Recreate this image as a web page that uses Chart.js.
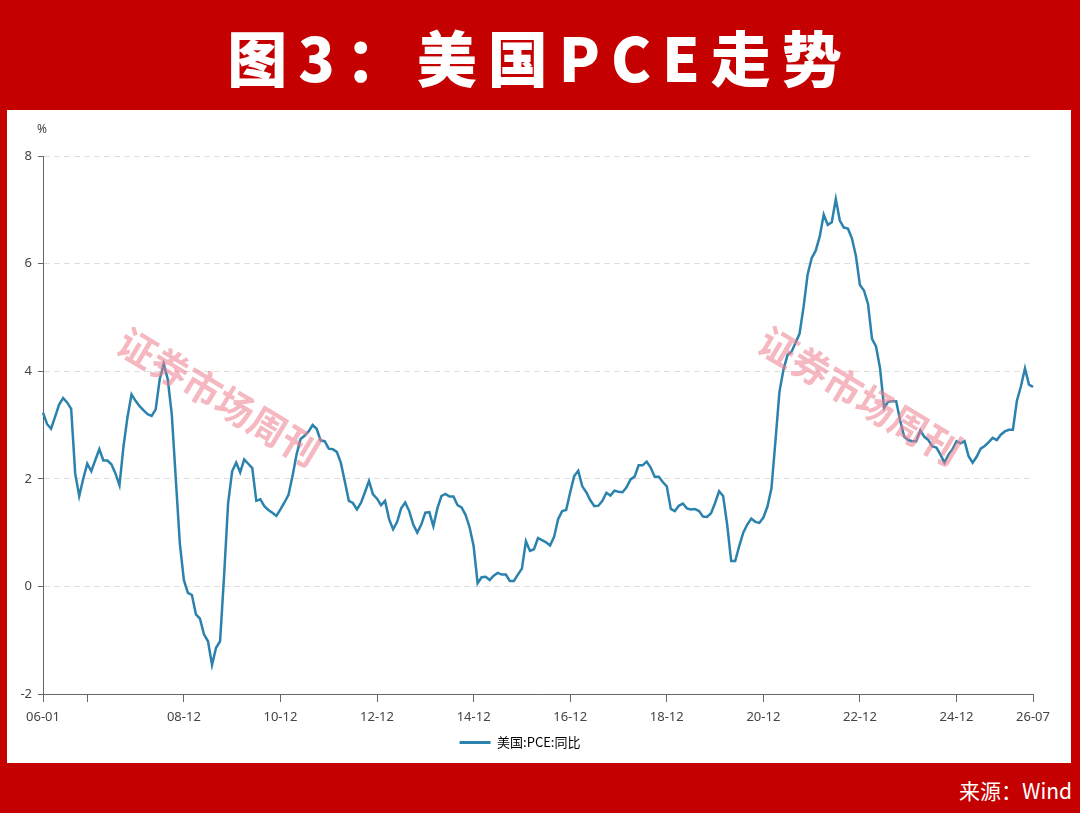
<!DOCTYPE html>
<html>
<head>
<meta charset="utf-8">
<script src="https://cdn.jsdelivr.net/npm/chart.js@4.4.1/dist/chart.umd.min.js"></script>
<style>
  html, body { margin:0; padding:0; }
  body { width:1080px; height:813px; background:#c40000; position:relative; overflow:hidden; }
  #title { position:absolute; left:0; top:14px; width:1080px; text-align:center; color:#fff;
           font-family:"Noto Sans CJK SC", sans-serif; font-weight:900; font-size:60px; line-height:84px; letter-spacing:11px; }
  #panel { position:absolute; left:7px; top:110px; width:1064px; height:653px; background:#fff; }
  #src { position:absolute; right:8px; top:775px; color:#fff; font-family:"Noto Sans CJK SC", sans-serif; font-size:21px; line-height:30px; }
</style>
</head>
<body>
<div id="title">图3：美国PCE走势</div>
<div id="panel"><canvas id="c" width="1064" height="653"></canvas></div>
<div id="src">来源：Wind</div>
<script>
// ---- data ----
const seriesName = '美国:PCE:同比';
const startYear = 2006, startMonth = 1, endYear = 2026, endMonth = 7;
const pceYoY = [
  3.23,3.02,2.93,3.15,3.38,3.50,3.42,3.30,2.10,1.68,2.00,2.28,
  2.14,2.35,2.55,2.34,2.34,2.27,2.10,1.88,2.60,3.15,3.57,3.45,
  3.35,3.27,3.20,3.17,3.29,3.85,4.13,3.85,3.20,2.00,0.80,0.12,
  -0.12,-0.16,-0.52,-0.60,-0.89,-1.02,-1.46,-1.14,-1.02,0.20,1.55,2.14,
  2.30,2.12,2.36,2.28,2.20,1.59,1.62,1.49,1.42,1.37,1.31,1.43,
  1.56,1.70,2.05,2.45,2.74,2.80,2.88,3.00,2.93,2.71,2.70,2.56,
  2.55,2.50,2.30,1.95,1.59,1.55,1.43,1.55,1.75,1.96,1.71,1.63,
  1.51,1.59,1.25,1.06,1.20,1.45,1.56,1.40,1.15,1.00,1.15,1.37,
  1.38,1.12,1.45,1.68,1.72,1.67,1.67,1.51,1.47,1.33,1.10,0.75,
  0.06,0.17,0.18,0.12,0.20,0.25,0.22,0.22,0.10,0.10,0.22,0.33,
  0.84,0.66,0.69,0.90,0.86,0.82,0.76,0.92,1.25,1.40,1.42,1.75,
  2.05,2.15,1.86,1.75,1.60,1.49,1.50,1.59,1.74,1.69,1.78,1.76,
  1.75,1.84,1.99,2.04,2.25,2.25,2.32,2.21,2.04,2.04,1.94,1.86,
  1.44,1.40,1.50,1.54,1.45,1.43,1.44,1.40,1.30,1.29,1.36,1.55,
  1.77,1.68,1.15,0.47,0.47,0.75,1.00,1.15,1.26,1.20,1.18,1.28,
  1.48,1.82,2.70,3.62,4.03,4.30,4.36,4.53,4.70,5.20,5.80,6.10,
  6.24,6.50,6.91,6.72,6.77,7.20,6.80,6.67,6.65,6.47,6.14,5.60,
  5.50,5.25,4.60,4.46,4.05,3.32,3.43,3.44,3.44,3.08,2.78,2.72,
  2.70,2.70,2.90,2.78,2.72,2.60,2.58,2.45,2.30,2.45,2.55,2.70,
  2.66,2.70,2.42,2.30,2.41,2.56,2.61,2.68,2.76,2.72,2.82,2.88,
  2.91,2.91,3.45,3.72,4.05,3.75,3.71
];
const xTickMarks = ['06-01','06-12','08-12','10-12','12-12','14-12','16-12','18-12','20-12','22-12','24-12','26-07'];
const xHiddenLabels = ['06-12'];
const yMin = -2, yMax = 8, yStep = 2;
const yUnit = '%';
const watermarkText = '证券市场周刊';

// categories (months)
const categories = [];
for (let y = startYear, m = startMonth; y < endYear || (y === endYear && m <= endMonth); ) {
  categories.push(String(y % 100).padStart(2,'0') + '-' + String(m).padStart(2,'0'));
  m++; if (m > 12) { m = 1; y++; }
}

const lineColor = '#2b82ad';
const axisColor = '#666';
const labelColor = '#444';

const extras = {
  id: 'extras',
  afterDraw(chart) {
    const ctx = chart.ctx, ca = chart.chartArea;
    ctx.save();
    ctx.fillStyle = labelColor;
    ctx.font = '12px "Noto Sans", sans-serif';
    ctx.textAlign = 'center'; ctx.textBaseline = 'middle';
    ctx.fillText(yUnit, ca.left - 1, 20);
    ctx.font = 'bold 38px "Noto Sans CJK SC", sans-serif';
    ctx.fillStyle = 'rgba(236,125,140,0.55)';
    const marks = [[212, 287], [853, 286]];
    for (const [cx, cy] of marks) {
      ctx.save();
      ctx.translate(cx, cy);
      ctx.rotate(31 * Math.PI / 180);
      ctx.fillText(watermarkText, 0, 0);
      ctx.restore();
    }
    ctx.restore();
  }
};

new Chart(document.getElementById('c'), {
  type: 'line',
  data: {
    labels: categories,
    datasets: [{
      label: seriesName,
      data: pceYoY,
      borderColor: lineColor,
      backgroundColor: lineColor,
      borderWidth: 2.5,
      pointRadius: 0,
      tension: 0,
      fill: false
    }]
  },
  options: {
    responsive: false,
    animation: false,
    layout: { padding: { left: 0, right: 38, top: 46, bottom: 4 } },
    plugins: {
      legend: {
        position: 'bottom',
        labels: {
          boxWidth: 31, boxHeight: 3, padding: 10,
          color: labelColor,
          font: { size: 13, family: '"Noto Sans CJK SC", sans-serif' },
          generateLabels: (chart) => [{
            text: seriesName, fillStyle: lineColor, strokeStyle: lineColor, lineWidth: 0, datasetIndex: 0
          }]
        }
      },
      tooltip: { enabled: false }
    },
    scales: {
      x: {
        type: 'category',
        offset: false,
        grid: {
          drawOnChartArea: false,
          drawTicks: true,
          tickLength: 8,
          color: (c) => (c.tick && xTickMarks.includes(categories[c.tick.value])) ? axisColor : 'rgba(0,0,0,0)',
          tickColor: (c) => (c.tick && xTickMarks.includes(categories[c.tick.value])) ? axisColor : 'rgba(0,0,0,0)'
        },
        border: { display: true, color: axisColor, width: 1 },
        ticks: {
          autoSkip: false, maxRotation: 0, minRotation: 0, padding: 7,
          color: labelColor,
          font: { size: 13, family: '"Noto Sans", sans-serif' },
          callback: function(v, i) {
            const lab = categories[v];
            return (xTickMarks.includes(lab) && !xHiddenLabels.includes(lab)) ? lab : '';
          }
        },
        afterFit: (s) => { s.height = 32; }
      },
      y: {
        min: yMin, max: yMax,
        grid: {
          color: '#dedede',
          tickColor: axisColor,
          tickLength: 5,
          lineWidth: 1
        },
        border: { display: true, color: axisColor, width: 1, dash: [6, 4] },
        ticks: {
          stepSize: yStep, padding: 6,
          color: labelColor,
          font: { size: 13, family: '"Noto Sans", sans-serif' }
        },
        afterFit: (s) => { s.width = 36; }
      }
    }
  },
  plugins: [extras]
});
</script>
</body>
</html>
